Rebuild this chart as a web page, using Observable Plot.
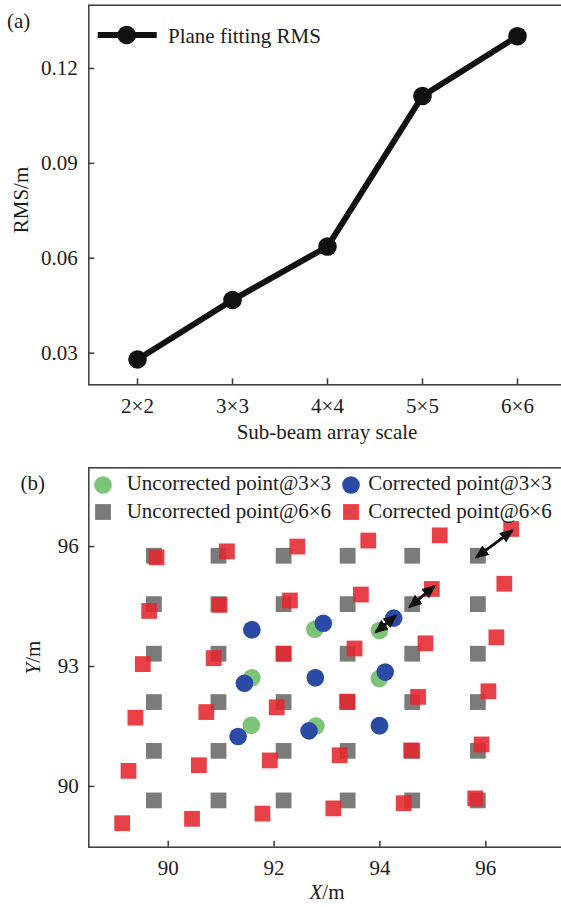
<!DOCTYPE html>
<html><head><meta charset="utf-8">
<script src="https://cdn.jsdelivr.net/npm/d3@7"></script>
<script src="https://cdn.jsdelivr.net/npm/@observablehq/plot@0.6"></script>
<style>
html,body{margin:0;padding:0;background:#fff;overflow:hidden}
#wrap{position:relative;width:561px;height:907px;overflow:hidden;background:#fff}
#wrap svg{display:block}
#overlay{position:absolute;left:0;top:0;pointer-events:none}
</style></head><body><div id="wrap"></div>
<script>
// ---------- Panel (a) data ----------
const scaleLabels = ["2×2", "3×3", "4×4", "5×5", "6×6"];
const rmsValues = [0.028, 0.0468, 0.0637, 0.1113, 0.1302];
const rmsTicks = [0.03, 0.06, 0.09, 0.12];

// ---------- Panel (b) data ----------
const xTicksB = [90, 92, 94, 96];
const yTicksB = [90, 93, 96];
// uncorrected 6x6 grid (columns / rows)
const uncorr6ColsX = [89.73, 90.95, 92.18, 93.39, 94.61, 95.85];
const uncorr6RowsY = [95.77, 94.56, 93.32, 92.11, 90.89, 89.65];
// corrected 6x6 points (row by row, top to bottom)
const corr6X = [
  89.78, 91.11, 92.44, 93.78, 95.13, 96.48,
  89.64, 90.97, 92.30, 93.64, 94.98, 96.35,
  89.52, 90.86, 92.18, 93.52, 94.86, 96.20,
  89.38, 90.72, 92.05, 93.38, 94.72, 96.05,
  89.25, 90.58, 91.92, 93.24, 94.59, 95.92,
  89.13, 90.45, 91.78, 93.12, 94.45, 95.80
];
const corr6Y = [
  95.73, 95.88, 96.00, 96.15, 96.28, 96.44,
  94.39, 94.54, 94.65, 94.80, 94.94, 95.07,
  93.06, 93.21, 93.32, 93.45, 93.58, 93.73,
  91.72, 91.86, 91.98, 92.12, 92.24, 92.38,
  90.39, 90.53, 90.65, 90.78, 90.90, 91.05,
  89.08, 89.19, 89.32, 89.45, 89.58, 89.70
];
// uncorrected 3x3 points
const uncorr3X = [91.58, 92.77, 93.99, 91.58, 92.78, 93.99, 91.57, 92.79, 94.00];
const uncorr3Y = [93.92, 93.93, 93.90, 92.72, 92.72, 92.70, 91.53, 91.51, 91.52];
// corrected 3x3 points
const corr3X = [91.58, 92.93, 94.26, 91.44, 92.78, 94.10, 91.32, 92.66, 93.99];
const corr3Y = [93.92, 94.08, 94.21, 92.58, 92.72, 92.86, 91.25, 91.39, 91.52];
// double-headed arrows
const arrowX1 = [95.82, 94.56, 93.92];
const arrowY1 = [95.73, 94.49, 93.86];
const arrowX2 = [96.50, 95.03, 94.30];
const arrowY2 = [96.40, 95.01, 94.27];

// ---------- build tables ----------
const dataA = scaleLabels.map((s, i) => ({s, v: rmsValues[i]}));
const grayPts = uncorr6RowsY.flatMap(y => uncorr6ColsX.map(x => ({x, y})));
const redPts = corr6X.map((x, i) => ({x, y: corr6Y[i]}));
const greenPts = uncorr3X.map((x, i) => ({x, y: uncorr3Y[i]}));
const bluePts = corr3X.map((x, i) => ({x, y: corr3Y[i]}));
const arrows = arrowX1.map((x1, i) => ({x1, y1: arrowY1[i], x2: arrowX2[i], y2: arrowY2[i]}));

const FONT = '"Liberation Serif", "Times New Roman", serif';
const INK = "#1c1c1c";
const AX = "#3a3a3a";
const baseStyle = {fontFamily: FONT, fontSize: "21px", color: INK, background: "transparent", overflow: "hidden"};

const plotA = Plot.plot({
  width: 561, height: 455,
  marginLeft: 88.3, marginRight: -3.7, marginTop: 4.7, marginBottom: 70.7,
  style: baseStyle,
  x: {type: "point", domain: scaleLabels, padding: 0.5},
  y: {domain: [0.02, 0.14]},
  marks: [
    Plot.frame({stroke: AX, strokeWidth: 1.5}),
    Plot.axisY(rmsTicks, {tickSize: 6, dx: 6, fill: "none", label: null, stroke: AX, strokeWidth: 1.5}),
    Plot.axisY(rmsTicks, {tickSize: 0, tickPadding: 11, tickFormat: d3.format(".2f"), label: "RMS/m", labelAnchor: "center", labelOffset: 76, labelArrow: "none"}),
    Plot.axisX(scaleLabels, {tickSize: 6, dy: -6, fill: "none", label: null, stroke: AX, strokeWidth: 1.5}),
    Plot.axisX(scaleLabels, {tickSize: 0, tickPadding: 13, label: "Sub-beam array scale", labelAnchor: "center", labelOffset: 54, labelArrow: "none"}),
    Plot.line(dataA, {x: "s", y: "v", stroke: "#111", strokeWidth: 6}),
    Plot.dot(dataA, {x: "s", y: "v", r: 9.3, fill: "#111"})
  ]
});
// nudge the rotated y label slightly downward
plotA.querySelectorAll("text").forEach(t => {
  if (t.textContent === "RMS/m") {
    const tr = t.getAttribute("transform") || "";
    t.setAttribute("transform", tr + " translate(-5,0)");
  }
});

const plotB = Plot.plot({
  width: 561, height: 452,
  marginLeft: 88.3, marginRight: -3.7, marginTop: 12.3, marginBottom: 60.3,
  style: baseStyle,
  x: {domain: [88.5, 97.5]},
  y: {domain: [88.48, 97.97]},
  marks: [
    Plot.frame({stroke: AX, strokeWidth: 1.5}),
    Plot.axisY(yTicksB, {tickSize: 6, dx: 6, fill: "none", label: null, stroke: AX, strokeWidth: 1.5}),
    Plot.axisY(yTicksB, {tickSize: 0, tickPadding: 10, label: "Y/m", labelAnchor: "center", labelOffset: 64, labelArrow: "none"}),
    Plot.axisX(xTicksB, {tickSize: 6, dy: -6, fill: "none", label: null, stroke: AX, strokeWidth: 1.5}),
    Plot.axisX(xTicksB, {tickSize: 0, tickPadding: 13, label: "X/m", labelAnchor: "center", labelOffset: 52, labelArrow: "none"}),
    Plot.dot(grayPts, {x: "x", y: "y", symbol: "square", r: 8.9, fill: "#7b7b7b"}),
    Plot.dot(redPts, {x: "x", y: "y", symbol: "square", r: 8.9, fill: "#e4262c", fillOpacity: 0.88}),
    Plot.dot(greenPts, {x: "x", y: "y", r: 8.8, fill: "#7cc576"}),
    Plot.dot(bluePts, {x: "x", y: "y", r: 8.8, fill: "#2a4aa6"}),
    Plot.link(arrows, {x1: "x1", y1: "y1", x2: "x2", y2: "y2", stroke: "#111", strokeWidth: 3})
  ]
});

const SVGNS = "http://www.w3.org/2000/svg";
// filled double arrow heads on the links
{
  const defs = document.createElementNS(SVGNS, "defs");
  const m = document.createElementNS(SVGNS, "marker");
  m.setAttribute("id", "fillhead");
  m.setAttribute("viewBox", "0 0 14 12");
  m.setAttribute("refX", "12");
  m.setAttribute("refY", "6");
  m.setAttribute("markerWidth", "14");
  m.setAttribute("markerHeight", "12");
  m.setAttribute("markerUnits", "userSpaceOnUse");
  m.setAttribute("orient", "auto-start-reverse");
  const p = document.createElementNS(SVGNS, "path");
  p.setAttribute("d", "M0,0 L14,6 L0,12 Z");
  p.setAttribute("fill", "#111");
  m.appendChild(p);
  defs.appendChild(m);
  plotB.insertBefore(defs, plotB.firstChild);
  plotB.querySelectorAll('g[aria-label="link"] path, g[aria-label="link"] line').forEach(el => {
    el.setAttribute("marker-start", "url(#fillhead)");
    el.setAttribute("marker-end", "url(#fillhead)");
  });
}

// italicise the variable letter in the panel (b) axis labels
plotB.querySelectorAll("text").forEach(t => {
  const s = t.textContent;
  if (s === "X/m" || s === "Y/m") {
    const tgt = t.querySelector("tspan") || t;
    tgt.textContent = "";
    const it = document.createElementNS(SVGNS, "tspan");
    it.setAttribute("font-style", "italic");
    it.textContent = s[0];
    tgt.appendChild(it);
    tgt.appendChild(document.createTextNode("/m"));
  }
});

const wrap = document.getElementById("wrap");
wrap.appendChild(plotA);
wrap.appendChild(plotB);

// ---------- overlay: panel tags and legends ----------
const ov = d3.create("svg").attr("id", "overlay").attr("width", 561).attr("height", 907)
  .style("font-family", FONT).style("font-size", "21px").attr("fill", INK);
ov.append("text").attr("x", 7).attr("y", 28).text("(a)");
ov.append("text").attr("x", 20.5).attr("y", 489.5).text("(b)");
// legend (a)
ov.append("line").attr("x1", 97.7).attr("x2", 156.7).attr("y1", 35).attr("y2", 35).attr("stroke", "#111").attr("stroke-width", 6);
ov.append("circle").attr("cx", 126.7).attr("cy", 35).attr("r", 9.3).attr("fill", "#111");
ov.append("text").attr("x", 168).attr("y", 43).text("Plane fitting RMS");
// legend (b)
const legB = [
  {label: "Uncorrected point@3×3", shape: "circle", color: "#7cc576", sx: 103, sy: 485, tx: 126.7, ty: 490},
  {label: "Corrected point@3×3", shape: "circle", color: "#2a4aa6", sx: 351, sy: 485, tx: 368.3, ty: 490},
  {label: "Uncorrected point@6×6", shape: "square", color: "#7b7b7b", sx: 103, sy: 512, tx: 126.7, ty: 518},
  {label: "Corrected point@6×6", shape: "square", color: "#e4262c", sx: 351, sy: 512, tx: 368.3, ty: 518}
];
legB.forEach(d => {
  if (d.shape === "circle") ov.append("circle").attr("cx", d.sx).attr("cy", d.sy).attr("r", 8.8).attr("fill", d.color);
  else ov.append("rect").attr("x", d.sx - 7.9).attr("y", d.sy - 7.9).attr("width", 15.8).attr("height", 15.8).attr("fill", d.color).attr("fill-opacity", d.color === "#e4262c" ? 0.88 : 1);
  ov.append("text").attr("x", d.tx).attr("y", d.ty).text(d.label);
});
wrap.appendChild(ov.node());
</script></body></html>
